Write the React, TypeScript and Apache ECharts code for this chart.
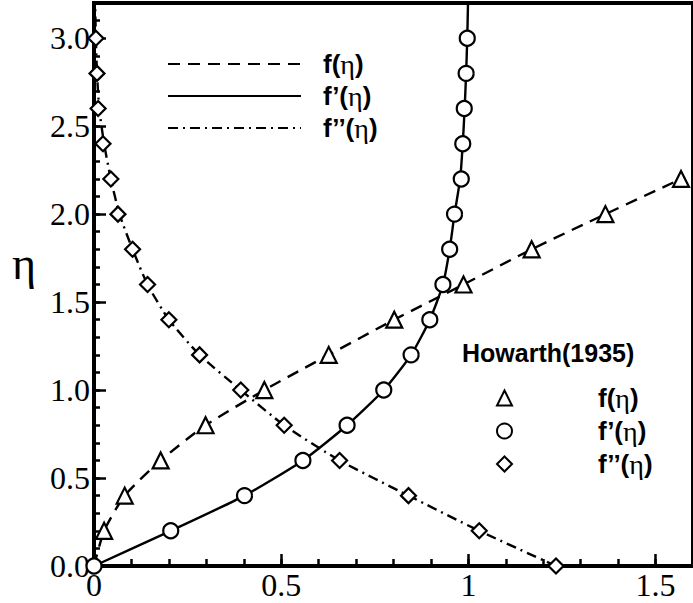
import React, { useEffect, useRef } from "react";
import * as echarts from "echarts";

// eta values of the Howarth (1935) markers
const etaF = [0.2, 0.4, 0.6, 0.8, 1.0, 1.2, 1.4, 1.6, 1.8, 2.0, 2.2];
const fVals = [0.027, 0.082, 0.178, 0.298, 0.455, 0.627, 0.802, 0.987, 1.169, 1.366, 1.568];

const etaFp = [0, 0.2, 0.4, 0.6, 0.8, 1.0, 1.2, 1.4, 1.6, 1.8, 2.0, 2.2, 2.4, 2.6, 2.8, 3.0];
const fpVals = [0, 0.205, 0.402, 0.558, 0.676, 0.774, 0.847, 0.897, 0.932, 0.95, 0.963, 0.981, 0.985, 0.989, 0.994, 0.997];

const etaFpp = [0, 0.2, 0.4, 0.6, 0.8, 1.0, 1.2, 1.4, 1.6, 1.8, 2.0, 2.2, 2.4, 2.6, 2.8, 3.0];
const fppVals = [1.234, 1.029, 0.84, 0.656, 0.508, 0.392, 0.282, 0.2, 0.143, 0.103, 0.064, 0.045, 0.024, 0.011, 0.008, 0.005];

// numerical solution curves (x, eta)
const fLineX = [0, 0.027, 0.082, 0.178, 0.298, 0.455, 0.627, 0.802, 0.987, 1.169, 1.366, 1.568];
const fLineEta = [0, 0.2, 0.4, 0.6, 0.8, 1.0, 1.2, 1.4, 1.6, 1.8, 2.0, 2.2];
const fpLineX = [0, 0.205, 0.402, 0.558, 0.676, 0.774, 0.847, 0.897, 0.932, 0.95, 0.963, 0.978, 0.985, 0.99, 0.994, 0.997, 0.999];
const fpLineEta = [0, 0.2, 0.4, 0.6, 0.8, 1.0, 1.2, 1.4, 1.6, 1.8, 2.0, 2.2, 2.4, 2.6, 2.8, 3.0, 3.2];
const fppLineX = [1.234, 1.029, 0.84, 0.656, 0.508, 0.392, 0.282, 0.2, 0.143, 0.103, 0.068, 0.045, 0.027, 0.014, 0.008, 0.005, 0.003];
const fppLineEta = [0, 0.2, 0.4, 0.6, 0.8, 1.0, 1.2, 1.4, 1.6, 1.8, 2.0, 2.2, 2.4, 2.6, 2.8, 3.0, 3.2];

const lineNames = ["f(η)", "f’(η)", "f’’(η)"];
const markerNames = ["Howarth f", "Howarth f’", "Howarth f’’"];
const labelParts = ["f", "f’", "f’’"];

const zip = (xs: number[], ys: number[]) => xs.map((x, i) => [x, ys[i]]);

const SERIF = "'Liberation Serif', 'Times New Roman', serif";
const SANS = "'Liberation Sans', Arial, sans-serif";

const richLabel = {
  b: { fontFamily: SANS, fontWeight: "bold" as const, fontSize: 26, color: "#000", lineHeight: 26 },
  e: { fontFamily: SERIF, fontSize: 28, color: "#000", lineHeight: 26 },
};

export default function App() {
  const ref = useRef<HTMLDivElement>(null);
  useEffect(() => {
    if (!ref.current) return;
    const chart = echarts.init(ref.current, undefined, { renderer: "svg" });
    const axisFont = { fontFamily: SERIF, fontSize: 32, color: "#000" };
    const lineW = 2.4;
    const hidden = { color: "rgba(0,0,0,0)", borderWidth: 0 };
    chart.setOption({
      animation: false,
      backgroundColor: "#fff",
      grid: {
        left: 94,
        top: 3,
        right: -9,
        bottom: 37,
        show: true,
        borderColor: "#000",
        borderWidth: 4,
        backgroundColor: "transparent",
      },
      title: {
        text: "Howarth(1935)",
        left: 462,
        top: 340,
        padding: 0,
        textStyle: { fontFamily: SANS, fontWeight: "bold", fontSize: 25, color: "#000" },
      },
      graphic: [
        {
          type: "text",
          left: 12,
          top: 240,
          style: { text: "η", fontFamily: SERIF, fontSize: 46, fill: "#000" },
        },
      ],
      legend: [
        {
          data: lineNames,
          orient: "vertical",
          left: 167,
          top: 50,
          padding: 0,
          itemWidth: 133,
          itemHeight: 14,
          itemGap: 4,
          formatter: (name: string) => {
            const i = lineNames.indexOf(name);
            return `{b|${labelParts[i]}(}{e|η}{b|)}`;
          },
          textStyle: { rich: richLabel, padding: [0, 0, 0, 17] },
          selectedMode: false,
        },
        {
          data: markerNames,
          orient: "vertical",
          left: 496,
          top: 384,
          padding: 0,
          itemWidth: 15,
          itemHeight: 15,
          itemGap: 5,
          formatter: (name: string) => {
            const i = markerNames.indexOf(name);
            return `{b|${labelParts[i]}(}{e|η}{b|)}`;
          },
          textStyle: { rich: richLabel, padding: [0, 0, 0, 81] },
          selectedMode: false,
        },
      ],
      xAxis: [
        {
          type: "value",
          min: 0,
          max: 1.6,
          interval: 0.5,
          position: "bottom",
          axisLine: { show: true, lineStyle: { color: "#000", width: 4 } },
          axisTick: { show: true, inside: true, length: 12, lineStyle: { color: "#000", width: 2.5 } },
          axisLabel: {
            ...axisFont,
            margin: 3,
            showMaxLabel: false,
            formatter: (v: number) => String(v),
          },
          splitLine: { show: false },
        },
        {
          type: "value",
          min: 0,
          max: 1.6,
          interval: 0.1,
          position: "bottom",
          axisLine: { show: false },
          axisTick: { show: true, inside: true, length: 7, lineStyle: { color: "#000", width: 2.5 } },
          axisLabel: { show: false },
          splitLine: { show: false },
        },
      ],
      yAxis: [
        {
          type: "value",
          min: 0,
          max: 3.2,
          interval: 0.5,
          position: "left",
          axisLine: { show: true, lineStyle: { color: "#000", width: 4 } },
          axisTick: { show: true, inside: true, length: 12, lineStyle: { color: "#000", width: 2.5 } },
          axisLabel: {
            ...axisFont,
            margin: 4,
            showMaxLabel: false,
            formatter: (v: number) => v.toFixed(1),
          },
          splitLine: { show: false },
        },
        {
          type: "value",
          min: 0,
          max: 3.2,
          interval: 0.1,
          position: "left",
          axisLine: { show: false },
          axisTick: { show: true, inside: true, length: 6, lineStyle: { color: "#000", width: 2.5 } },
          axisLabel: { show: false },
          splitLine: { show: false },
        },
      ],
      series: [
        {
          name: lineNames[0],
          type: "line",
          data: zip(fLineX, fLineEta),
          symbol: "none",
          showSymbol: false,
          smooth: 0.2,
          lineStyle: { color: "#000", width: lineW, type: [12, 8] },
          itemStyle: hidden,
        },
        {
          name: lineNames[1],
          type: "line",
          data: zip(fpLineX, fpLineEta),
          symbol: "none",
          showSymbol: false,
          smooth: 0.2,
          lineStyle: { color: "#000", width: lineW, type: "solid" },
          itemStyle: hidden,
        },
        {
          name: lineNames[2],
          type: "line",
          data: zip(fppLineX, fppLineEta),
          symbol: "none",
          showSymbol: false,
          smooth: 0.2,
          lineStyle: { color: "#000", width: lineW, type: [10, 5, 2, 5] },
          itemStyle: hidden,
        },
        {
          name: markerNames[0],
          type: "scatter",
          data: zip(fVals, etaF),
          symbol: "triangle",
          symbolSize: 16,
          itemStyle: { color: "#fff", borderColor: "#000", borderWidth: 2.2, opacity: 1 },
          z: 5,
        },
        {
          name: markerNames[1],
          type: "scatter",
          data: zip(fpVals, etaFp),
          symbol: "circle",
          symbolSize: 15,
          itemStyle: { color: "#fff", borderColor: "#000", borderWidth: 2.2, opacity: 1 },
          z: 5,
        },
        {
          name: markerNames[2],
          type: "scatter",
          data: zip(fppVals, etaFpp),
          symbol: "diamond",
          symbolSize: 15,
          itemStyle: { color: "#fff", borderColor: "#000", borderWidth: 2.2, opacity: 1 },
          z: 5,
        },
      ],
    });
    return () => chart.dispose();
  }, []);
  return (
    <div
      ref={ref}
      style={{ position: "absolute", left: 0, top: 0, width: 693, height: 603, background: "#fff" }}
    />
  );
}
